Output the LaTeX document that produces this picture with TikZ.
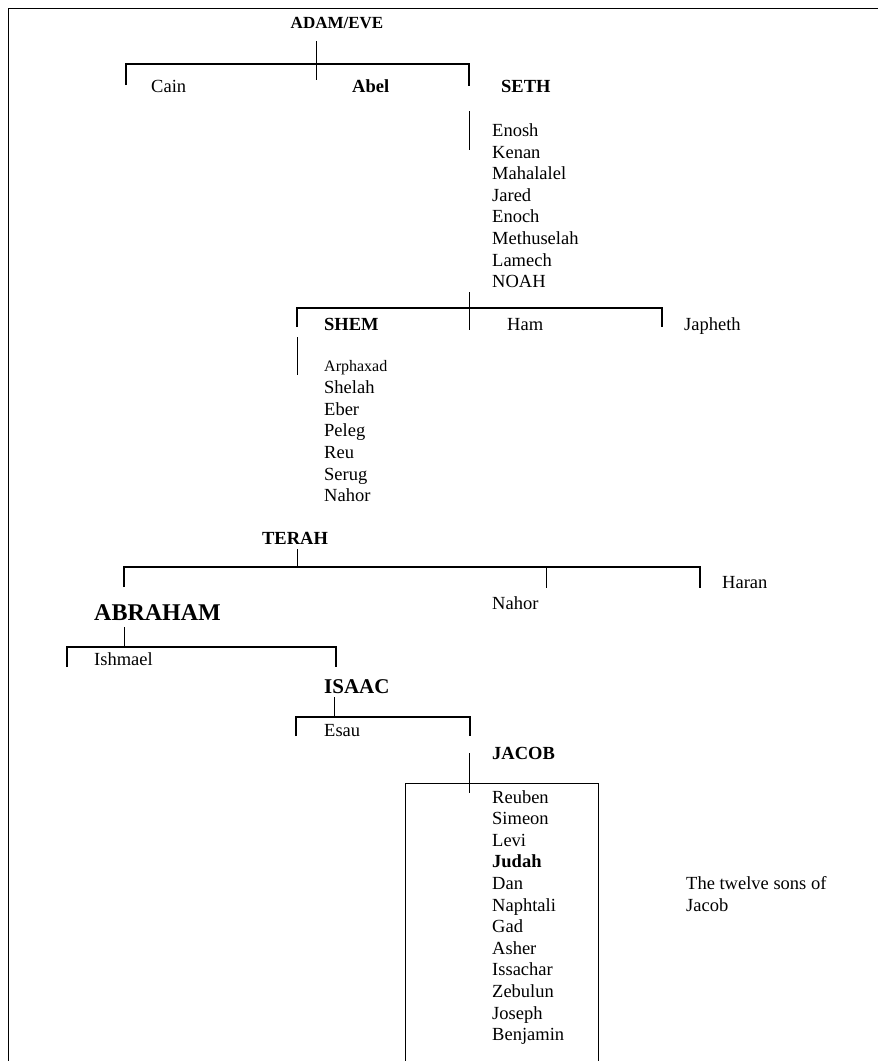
\documentclass[tikz,border=0pt]{standalone}
\usepackage{fontspec}
\setmainfont{Liberation Serif}

\tikzset{
  kin/.style={anchor=base west,inner sep=0pt,font=\fontsize{18.5}{22}\selectfont},
  head/.style={kin,font=\fontsize{18.5}{22}\selectfont\bfseries},
  bar/.style={line width=1.3pt},
  stem/.style={line width=.9pt}
}

\begin{document}
\begin{tikzpicture}[x=1pt,y=-1pt]
\useasboundingbox (0,0) rectangle (878,1061);

% frame
\draw[stem] (8,1061) -- (8,8) -- (878,8);

% Adam and Eve
\node[head,anchor=base,font=\fontsize{17}{20}\selectfont\bfseries] (adam) at (337,28) {ADAM/EVE};
\coordinate (adamstem) at (316,41);
\coordinate (adambar) at (126,64);
\draw[stem] (adamstem) -- ++(0,39);
\draw[bar] (adambar) ++(0,21) -- ++(0,-21) -- ++(343,0) -- ++(0,22);
\node[kin] (cain) at (151,92) {Cain};
\node[head] (abel) at (352,92) {Abel};
\node[head] (seth) at (501,92) {SETH};

% Seth to Noah
\coordinate (sethstem) at (469,111);
\draw[stem] (sethstem) -- ++(0,39);
\foreach \n [count=\i from 0] in {Enosh,Kenan,Mahalalel,Jared,Enoch,Methuselah,Lamech,NOAH}
  \node[kin] (seth\i) at (492,{136.5+21.6*\i}) {\n};

% Noah
\coordinate (noahstem) at (469,292);
\coordinate (noahbar) at (297,308);
\draw[stem] (noahstem) -- ++(0,38);
\draw[bar] (noahbar) ++(0,19) -- ++(0,-19) -- ++(365,0) -- ++(0,19);
\node[head] (shem) at (324,330) {SHEM};
\node[kin] (ham) at (507,330) {Ham};
\node[kin] (japheth) at (684,330) {Japheth};

% Shem to Nahor
\coordinate (shemstem) at (297,337);
\draw[stem] (shemstem) -- ++(0,38);
\node[kin,font=\fontsize{16}{20}\selectfont] (shem0) at (324,371) {Arphaxad};
\foreach \n [count=\i] in {Shelah,Eber,Peleg,Reu,Serug,Nahor}
  \node[kin] (shem\i) at (324,{372+21.6*\i}) {\n};

% Terah
\node[head,anchor=base] (terah) at (295,544) {TERAH};
\coordinate (terahstem) at (297,549);
\coordinate (terahbar) at (124,567);
\draw[stem] (terahstem) -- ++(0,18);
\draw[bar] (terahbar) ++(0,20) -- ++(0,-20) -- ++(576,0) -- ++(0,21);
\draw[stem] (546,567) -- ++(0,21);
\node[kin] (haran) at (722,588) {Haran};
\node[kin] (nahor) at (492,609) {Nahor};

% Abraham
\node[head,font=\fontsize{24}{28}\selectfont\bfseries] (abraham) at (94,620) {ABRAHAM};
\coordinate (abrahamstem) at (124,627);
\coordinate (abrahambar) at (67,647);
\draw[stem] (abrahamstem) -- ++(0,20);
\draw[bar] (abrahambar) ++(0,20) -- ++(0,-20) -- ++(269,0) -- ++(0,20);
\node[kin] (ishmael) at (94,665) {Ishmael};

% Isaac
\node[head,font=\fontsize{21}{25}\selectfont\bfseries] (isaac) at (324,693) {ISAAC};
\coordinate (isaacstem) at (334,697);
\coordinate (isaacbar) at (296,717);
\draw[stem] (isaacstem) -- ++(0,20);
\draw[bar] (isaacbar) ++(0,19) -- ++(0,-19) -- ++(174,0) -- ++(0,19);
\node[kin] (esau) at (324,736) {Esau};

% Jacob and his sons
\node[head] (jacob) at (492,759) {JACOB};
\coordinate (jacobstem) at (469,753);
\draw[stem] (jacobstem) -- ++(0,40);
\draw[stem] (405,1061) -- (405,783) -- (598,783) -- (598,1061);
\foreach \n [count=\i from 0] in {Reuben,Simeon,Levi,{\textbf{Judah}},Dan,Naphtali,Gad,Asher,Issachar,Zebulun,Joseph,Benjamin}
  \node[kin] (son\i) at (492,{803+21.6*\i}) {\n};
\node[kin,align=left,anchor=base west] (twelve) at (686,911) {The twelve sons of\\Jacob};

\end{tikzpicture}
\end{document}
